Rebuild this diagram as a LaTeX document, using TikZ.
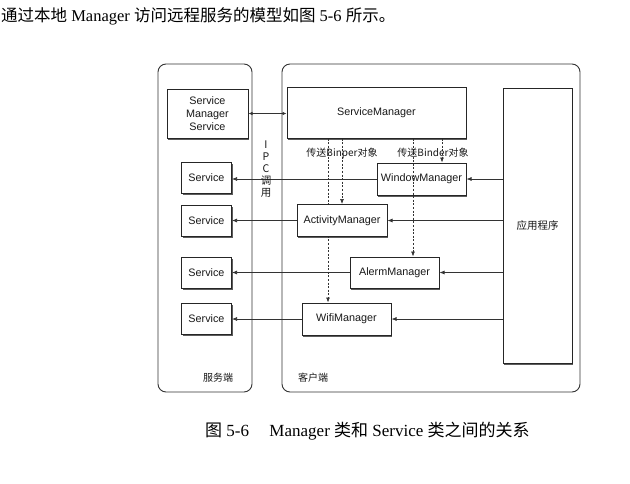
\documentclass[tikz,border=0pt]{standalone}
\usepackage{fontspec}
\setmainfont{Liberation Serif}
\newfontfamily\cjk{Noto Sans CJK SC}
\newfontfamily\lsans{Liberation Sans}
\usetikzlibrary{arrows.meta,shadows}
\pgfdeclarelayer{bg}
\pgfsetlayers{bg,main}
\tikzset{
  box/.style={draw=black!85, line width=1pt, fill=white, inner sep=0pt, align=center,
    font=\lsans\fontsize{10.8}{13}\selectfont, text=black!90,
    drop shadow={shadow xshift=1.2pt, shadow yshift=-1.6pt, opacity=0.8, fill=black!80}},
  container/.style={draw=black!80, line width=0.9pt, rounded corners=8pt},
  conn/.style={draw=black!80, line width=0.7pt},
  arr/.style={conn, -{Latex[length=5pt,width=4pt]}},
  dasharr/.style={conn, dash pattern=on 2pt off 1.6pt, -{Latex[length=5pt,width=4pt]}},
  lbl/.style={inner sep=0pt, font=\cjk\fontsize{10}{12}\selectfont, text=black!90},
}
\begin{document}
\begin{tikzpicture}[x=1pt,y=-1pt]
\useasboundingbox (0,0) rectangle (630,483);

% title and caption
\node[anchor=west, inner sep=0pt, font=\fontsize{16.5}{18}\selectfont] (title) at (1,16)
  {{\cjk 通过本地} Manager {\cjk 访问远程服务的模型如图} 5-6 {\cjk 所示。}};
\node[anchor=west, inner sep=0pt, font=\fontsize{17}{19}\selectfont] (caption) at (205,431)
  {{\cjk 图} 5-6\hspace{1.2em}Manager {\cjk 类和} Service {\cjk 类之间的关系}};

% containers
\draw[container] (158,64) rectangle (252,392);
\draw[container] (282,64) rectangle (580,392);
\node[lbl] (srvlbl) at (218,378) {服务端};
\node[lbl] (clilbl) at (313,378) {客户端};

% server side
\node[box, minimum width=81pt, minimum height=49pt] (sms) at (207.5,113.5) {Service\\Manager\\Service};
\node[box, minimum width=50pt, minimum height=31pt] (s1) at (206.5,177.5) {Service};
\node[box, minimum width=50pt, minimum height=31pt] (s2) at (206.5,220.5) {Service};
\node[box, minimum width=50pt, minimum height=31pt] (s3) at (206.5,272.5) {Service};
\node[box, minimum width=50pt, minimum height=31pt] (s4) at (206.5,318.5) {Service};

% IPC label
\node[lbl, align=center, font=\cjk\fontsize{10.5}{12}\selectfont] (ipc) at (266,169) {I\\P\\C\\调\\用};

% client side
\node[box, minimum width=179pt, minimum height=51pt] (sm) at (376.5,112.5) {ServiceManager};
\node[box, minimum width=89pt, minimum height=32pt] (wm) at (421.5,179) {WindowManager};
\node[box, minimum width=90pt, minimum height=32pt] (am) at (342,220.5) {ActivityManager};
\node[box, minimum width=89pt, minimum height=31pt] (alm) at (394.5,272.5) {AlermManager};
\node[box, minimum width=89pt, minimum height=32pt] (wifi) at (346.5,319) {WifiManager};
\node[box, minimum width=69pt, minimum height=275pt, font=\cjk\fontsize{10.5}{12}\selectfont] (app) at (537.5,225.5) {应用程序};

\coordinate (d1) at (328,0);
\coordinate (d2) at (342,0);
\coordinate (d3) at (413,0);
\coordinate (d4) at (442,0);

\begin{pgfonlayer}{bg}
  \draw[conn, {Latex[length=4pt,width=3.5pt]}-{Latex[length=4pt,width=3.5pt]}] (sms.east) -- (sms.east -| sm.west);
  \draw[arr] (app.west |- wm.east) -- (wm.east);
  \draw[arr] (wm.west) -- (wm.west -| s1.east);
  \draw[arr] (app.west |- am.east) -- (am.east);
  \draw[arr] (am.west) -- (am.west -| s2.east);
  \draw[arr] (app.west |- alm.east) -- (alm.east);
  \draw[arr] (alm.west) -- (alm.west -| s3.east);
  \draw[arr] (app.west |- wifi.east) -- (wifi.east);
  \draw[arr] (wifi.west) -- (wifi.west -| s4.east);
  \draw[dasharr] (sm.south -| d1) -- (wifi.north -| d1);
\end{pgfonlayer}
\draw[dasharr] (sm.south -| d2) -- (am.north -| d2);
\draw[dasharr] (sm.south -| d3) -- (alm.north -| d3);
\draw[dasharr] (sm.south -| d4) -- (wm.north -| d4);

\node[lbl] (bl1) at (342,153) {传送Binper对象};
\node[lbl] (bl2) at (433,153) {传送Binder对象};
\end{tikzpicture}
\end{document}
